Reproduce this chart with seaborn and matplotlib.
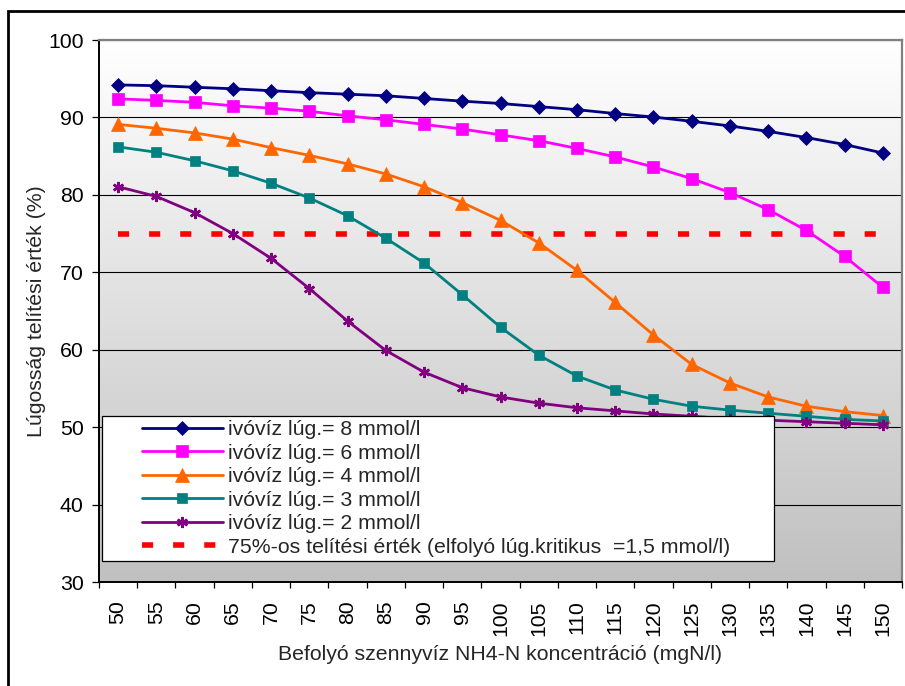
import numpy as np
import matplotlib
matplotlib.use("Agg")
import matplotlib.pyplot as plt
import seaborn as sns
from matplotlib.colors import LinearSegmentedColormap
from matplotlib.legend_handler import HandlerLine2D
from matplotlib.lines import Line2D
from matplotlib.patches import Rectangle
from matplotlib.ticker import FixedLocator

# NH4-N concentration of the incoming wastewater (mgN/l)
conc = [50, 55, 60, 65, 70, 75, 80, 85, 90, 95, 100,
        105, 110, 115, 120, 125, 130, 135, 140, 145, 150]

# alkalinity saturation (%) for different drinking-water alkalinities
lug8 = [94.2, 94.1, 93.9, 93.7, 93.45, 93.2, 93.0, 92.8, 92.45, 92.1, 91.8,
        91.4, 91.0, 90.5, 90.05, 89.5, 88.9, 88.2, 87.4, 86.5, 85.4]
lug6 = [92.4, 92.2, 91.95, 91.5, 91.2, 90.8, 90.2, 89.7, 89.1, 88.5, 87.75,
        87.0, 86.0, 84.9, 83.6, 82.1, 80.3, 78.1, 75.4, 72.05, 68.05]
lug4 = [89.1, 88.6, 88.0, 87.2, 86.1, 85.1, 84.0, 82.7, 81.05, 79.0, 76.7,
        73.8, 70.25, 66.1, 61.9, 58.1, 55.7, 53.9, 52.7, 52.0, 51.5]
lug3 = [86.2, 85.5, 84.4, 83.1, 81.5, 79.6, 77.3, 74.4, 71.2, 67.1, 62.9,
        59.3, 56.6, 54.8, 53.6, 52.7, 52.2, 51.8, 51.4, 51.0, 50.8]
lug2 = [81.05, 79.8, 77.7, 75.0, 71.8, 67.9, 63.7, 59.9, 57.1, 55.1, 53.9,
        53.1, 52.5, 52.1, 51.7, 51.4, 51.1, 50.9, 50.7, 50.5, 50.3]

series_labels = ["ivóvíz lúg.= 8 mmol/l", "ivóvíz lúg.= 6 mmol/l",
                 "ivóvíz lúg.= 4 mmol/l", "ivóvíz lúg.= 3 mmol/l",
                 "ivóvíz lúg.= 2 mmol/l"]
crit_level = 75
crit_label = "75%-os telítési érték (elfolyó lúg.kritikus  =1,5 mmol/l)"

x_title = "Befolyó szennyvíz NH4-N koncentráció (mgN/l)"
y_title = "Lúgosság telítési érték (%)"

sns.set_theme(style="white")
plt.rcParams["font.family"] = ["Liberation Sans", "DejaVu Sans"]
FS = 15.3

W, H = 905, 686
fig = plt.figure(figsize=(W / 100, H / 100), dpi=100)
fig.patch.set_facecolor("white")
ax = fig.add_axes([99 / W, 1 - 582 / H, 803 / W, 542 / H])

# vertical white-to-silver gradient behind the plot area
grad = np.linspace(0, 1, 256).reshape(-1, 1)
cmap = LinearSegmentedColormap.from_list("plotbg", ["#ffffff", "#c0c0c0"])
ax.imshow(grad, cmap=cmap, aspect="auto", extent=(0, 1, 0, 1),
          transform=ax.transAxes, zorder=0, interpolation="bilinear")

styles = [
    dict(color="#000080", marker="D", markersize=7.0, markeredgewidth=0.5),
    dict(color="#ff00ff", marker="s", markersize=9.0, markeredgewidth=0.5),
    dict(color="#ff6600", marker="^", markersize=10.0, markeredgewidth=0.5),
    dict(color="#008080", marker="s", markersize=6.5, markeredgewidth=0.5),
    dict(color="#800080", marker=(6, 2, 0), markersize=8.0, markeredgewidth=1.8),
]

# critical 75% level, drawn underneath the curves
sns.lineplot(x=conc, y=[crit_level] * len(conc), ax=ax, color="#ff0000",
             linewidth=4.0, linestyle=(0, (2.0, 3.6)), dash_capstyle="butt",
             label=crit_label, zorder=2)

for vals, lab, st in zip([lug8, lug6, lug4, lug3, lug2], series_labels, styles):
    sns.lineplot(x=conc, y=vals, ax=ax, color=st["color"], linewidth=2.0,
                 marker=st["marker"], markersize=st["markersize"],
                 markerfacecolor=st["color"], markeredgecolor=st["color"],
                 markeredgewidth=st["markeredgewidth"], label=lab, zorder=3)

ax.set_xlim(conc[0] - 2.5, conc[-1] + 2.5)
ax.set_ylim(30, 100)
ax.set_xticks(conc)
ax.set_xticklabels([str(c) for c in conc])
ax.xaxis.set_minor_locator(FixedLocator(list(np.array(conc) - 2.5) + [conc[-1] + 2.5]))
ax.set_yticks(range(30, 101, 10))

ax.tick_params(axis="x", which="major", length=0, pad=13, labelsize=FS,
               labelrotation=90, colors="black")
ax.tick_params(axis="x", which="minor", length=4.3, width=0.9, color="black",
               direction="out", bottom=True)
ax.tick_params(axis="y", which="major", length=5, width=0.9, pad=6,
               labelsize=FS, direction="out", left=True, colors="black")

ax.set_axisbelow(True)
ax.grid(axis="y", color="black", linewidth=0.8)
ax.grid(axis="x", visible=False)

for side in ("left", "bottom"):
    ax.spines[side].set_color("black")
    ax.spines[side].set_linewidth(1.4)
for side in ("top", "right"):
    ax.spines[side].set_color("#808080")
    ax.spines[side].set_linewidth(1.6)

ax.set_xlabel(x_title, fontsize=FS)
ax.set_ylabel(y_title, fontsize=FS)
ax.xaxis.set_label_coords(0.5, (582 - 655) / 542)
ax.xaxis.label.set_verticalalignment("center")
ax.yaxis.set_label_coords((37 - 99) / 803, 0.5)
ax.yaxis.label.set_verticalalignment("center")


class LeadLineHandler(HandlerLine2D):
    """Line handler that leaves an empty lead-in before the sample line."""

    def __init__(self, lead, **kw):
        super().__init__(**kw)
        self.lead = lead

    def get_xdata(self, legend, xdescent, ydescent, width, height, fontsize):
        xd, xm = super().get_xdata(legend, xdescent, ydescent,
                                   width - self.lead, height, fontsize)
        return np.asarray(xd) + self.lead, np.asarray(xm) + self.lead


handles, labels = ax.get_legend_handles_labels()
order = [1, 2, 3, 4, 5, 0]
handles = [handles[i] for i in order]
labels = [labels[i] for i in order]

lead_pt = 25.5
leg = ax.legend(handles, labels, loc="lower left",
                bbox_to_anchor=(3 / 803, 21 / 542, 672 / 803, 0.3),
                mode="expand", borderaxespad=0, fontsize=FS,
                frameon=True, fancybox=False, framealpha=1,
                edgecolor="black", facecolor="white", borderpad=0.2,
                labelspacing=0.21, handlelength=5.5, handletextpad=0.25,
                numpoints=1,
                handler_map={Line2D: LeadLineHandler(lead_pt)})
leg.get_frame().set_linewidth(0.9)
leg.set_zorder(5)

# outer chart frame
fig.add_artist(Rectangle((8 / W, -0.05), 1.0, (H - 11) / H + 0.05,
                         transform=fig.transFigure, fill=False,
                         edgecolor="black", linewidth=2.0, clip_on=False))

fig.savefig("out.png", dpi=100)
